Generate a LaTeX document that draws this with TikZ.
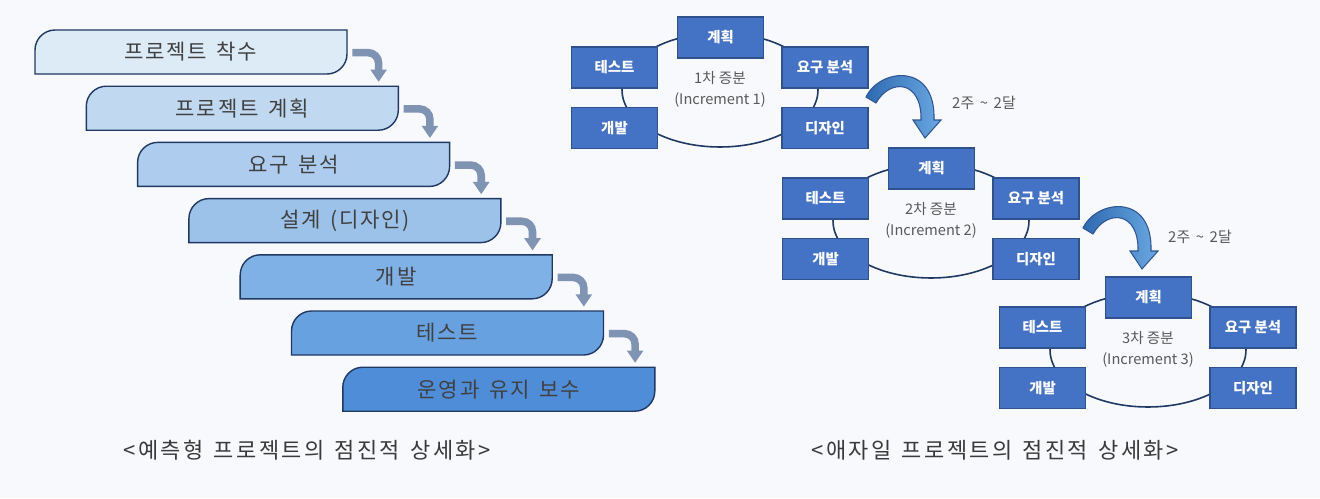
\documentclass[tikz,border=0pt]{standalone}
\usepackage{fontspec}
\newfontfamily\kr{Noto Sans CJK KR}[WordSpace=1.5,LetterSpace=8]
\newfontfamily\krc{Noto Sans CJK KR}[WordSpace=1.4,LetterSpace=11]
\newfontfamily\krn{Noto Sans CJK KR}
\newfontfamily\krt{Noto Sans CJK KR}[WordSpace=1.5,LetterSpace=2]
\usetikzlibrary{arrows.meta,calc}
\definecolor{bg}{HTML}{F8F9FC}
\definecolor{navy}{HTML}{1F3864}
\definecolor{txtgray}{HTML}{404040}
\definecolor{midgray}{HTML}{595959}
\definecolor{capgray}{HTML}{3A3A3A}
\definecolor{arrgray}{HTML}{7F93B3}
\definecolor{cblue}{HTML}{4472C4}
\definecolor{cborder}{HTML}{2F528F}
\definecolor{arrdark}{HTML}{2E6AB0}
\definecolor{arrlight}{HTML}{6AA8E2}
\definecolor{arrborder}{HTML}{2F5597}
\definecolor{wf1}{HTML}{DDEBF7}
\definecolor{wf2}{HTML}{C0D9F0}
\definecolor{wf3}{HTML}{AECDEE}
\definecolor{wf4}{HTML}{9CC2EA}
\definecolor{wf5}{HTML}{80B1E6}
\definecolor{wf6}{HTML}{68A1E0}
\definecolor{wf7}{HTML}{4F8DD9}
\tikzset{
 wbox/.style={rectangle, minimum width=6.24cm, minimum height=0.88cm, inner sep=0pt, text=txtgray, font=\kr\fontsize{12}{14}\selectfont},
 wshape/.style={draw=navy, line width=0.8pt},
 wfarrow/.style={draw=arrgray, line width=4.3pt, rounded corners=6pt, -{Triangle[width=9pt,length=7pt]}},
 cbox/.style={rectangle, draw=cborder, fill=cblue, line width=0.8pt, minimum width=1.72cm, minimum height=0.82cm, inner sep=0pt, text=white, font=\krn\bfseries\fontsize{8.2}{10}\selectfont},
 ring/.style={draw=navy, line width=0.9pt},
 ctext/.style={align=center, text=midgray, font=\krn\fontsize{8.3}{12}\selectfont},
 tlabel/.style={text=midgray, font=\krt\fontsize{8.5}{10}\selectfont},
 captext/.style={text=capgray, font=\krc\fontsize{12.5}{14}\selectfont},
 carrow/.style={draw=arrborder, line width=0.6pt, left color=arrdark, right color=arrlight},
}
\begin{document}
\begin{tikzpicture}[x=0.02cm,y=-0.02cm]
\fill[bg] (0,0) rectangle (1320,498);
\useasboundingbox (0,0) rectangle (1320,498);

% waterfall boxes
\foreach \i/\t/\c in {1/프로젝트 착수/wf1, 2/프로젝트 계획/wf2, 3/요구 분석/wf3, 4/설계 (디자인)/wf4, 5/개발/wf5, 6/테스트/wf6, 7/운영과 유지 보수/wf7}{
  \pgfmathsetmacro\L{35+51.3*(\i-1)}
  \pgfmathsetmacro\T{30+56.2*(\i-1)}
  \path[wshape, fill=\c] (\L,\T+44) -- (\L,\T+20) .. controls (\L,\T+9) and (\L+9,\T) .. (\L+20,\T)
     -- (\L+312,\T) -- (\L+312,\T+24) .. controls (\L+312,\T+35) and (\L+303,\T+44) .. (\L+292,\T+44) -- cycle;
  \node[wbox] (w\i) at (\L+156,\T+22) {\t};
}
\foreach \i [evaluate=\i as \j using int(\i+1)] in {1,...,6}{
  \draw[wfarrow] ($(w\i.north east)+(5,23)$) -| ($(w\j.north east)+(-20,-4)$);
}

% cycles
\foreach \n/\dx/\dy in {1/0/0, 2/211/131, 3/428/260}{
 \begin{scope}[shift={(\dx,\dy)}]
  \draw[ring] (720,90) ellipse [x radius=1.96cm, y radius=1.14cm];
  \node[cbox] (plan\n) at (720.5,37.5) {계획};
  \node[cbox] (test\n) at (614.5,67.5) {테스트};
  \node[cbox] (req\n) at (825,67.5) {요구 분석};
  \node[cbox] (dev\n) at (614.5,128) {개발};
  \node[cbox] (des\n) at (825,128) {디자인};
  \node[ctext] (inc\n) at (720,89.5) {{\n}차 증분\\(Increment {\n})};
 \end{scope}
}

% curved block arrows
\foreach \sx/\sy in {0/0, 217/131}{
 \begin{scope}[shift={(\sx,\sy)}]
  \path[carrow] (866,97) .. controls (880,68) and (936,62) .. (934,120) -- (941,120) -- (925,138) -- (913,120) -- (921,120) .. controls (922,80) and (890,78) .. (876,103) -- cycle;
 \end{scope}
}
\node[tlabel] (t1) at (984,103) {2주 \textasciitilde{} 2달};
\node[tlabel] (t2) at (1200,237) {2주 \textasciitilde{} 2달};

% captions
\node[captext] (cap1) at (307,450) {<예측형 프로젝트의 점진적 상세화>};
\node[captext] (cap2) at (995,450) {<애자일 프로젝트의 점진적 상세화>};
\end{tikzpicture}
\end{document}
